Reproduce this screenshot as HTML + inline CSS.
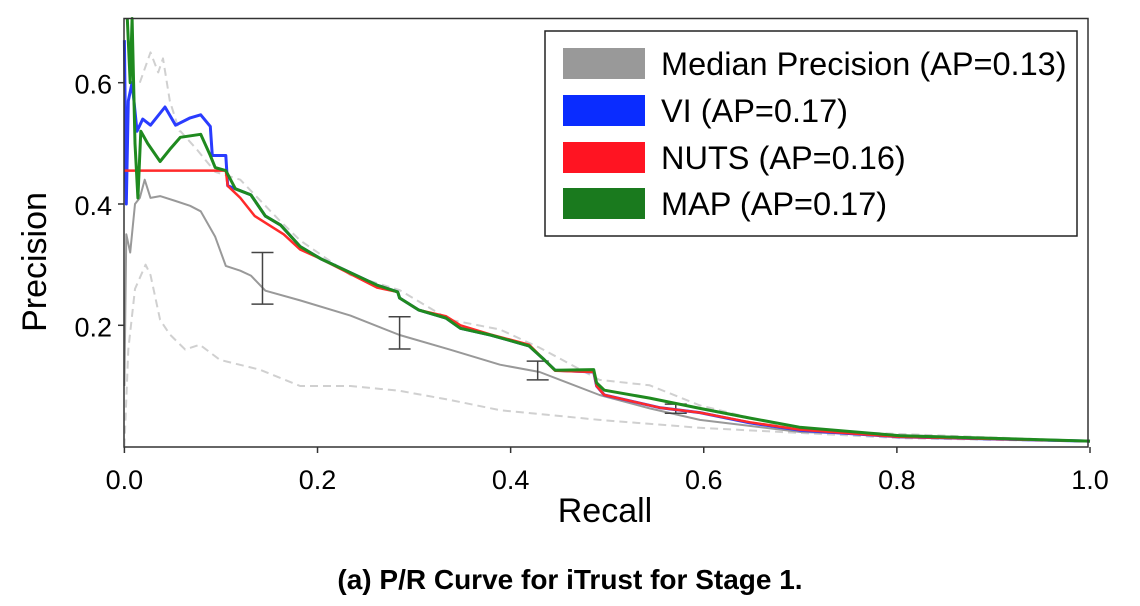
<!DOCTYPE html>
<html><head><meta charset="utf-8"><style>
html,body{margin:0;padding:0;background:#fff;}
svg text{font-family:"Liberation Sans",sans-serif;fill:#000;}
</style></head><body>
<svg width="1140" height="601" viewBox="0 0 1140 601">
<g id="plot"></g>
<rect x="124" y="18.5" width="964" height="428.5" fill="none" stroke="#333" stroke-width="1.5"/>
<g id="ticks"></g>
<text x="605" y="522" font-size="34" text-anchor="middle">Recall</text>
<text transform="translate(46,262) rotate(-90)" font-size="34" text-anchor="middle">Precision</text>
<g>
<rect x="545" y="31" width="532" height="205" fill="#fff" stroke="#222" stroke-width="1.5"/>
<rect x="563" y="48" width="82" height="31" fill="#999"/>
<text x="661" y="75" font-size="32.5">Median Precision (AP=0.13)</text>
<rect x="563" y="95" width="82" height="31" fill="#0a2cff"/>
<text x="661" y="122" font-size="32.5">VI (AP=0.17)</text>
<rect x="563" y="142" width="82" height="31" fill="#ff1422"/>
<text x="661" y="169" font-size="32.5">NUTS (AP=0.16)</text>
<rect x="563" y="188" width="82" height="31" fill="#1a7a1e"/>
<text x="661" y="215" font-size="32.5">MAP (AP=0.17)</text>
</g>
<text x="570" y="589" font-size="28" font-weight="bold" text-anchor="middle">(a) P/R Curve for iTrust for Stage 1.</text>
</svg>
<script>
const xTicks=[0,0.2,0.4,0.6,0.8,1.0];
const xTickLabels=["0.0","0.2","0.4","0.6","0.8","1.0"];
const yTicks=[0.2,0.4,0.6];
const yTickLabels=["0.2","0.4","0.6"];
const upperR=[0.016,0.027,0.035,0.04,0.047,0.057,0.058,0.075,0.094,0.12,0.14,0.16,0.182,0.234,0.285,0.337,0.389,0.43,0.492,0.544,0.596,0.7,1.0];
const upperP=[0.6,0.65,0.617,0.64,0.57,0.52,0.52,0.49,0.453,0.44,0.407,0.374,0.34,0.283,0.258,0.209,0.193,0.163,0.11,0.101,0.068,0.027,0.009];
const lowerR=[0,0.004,0.011,0.022,0.027,0.037,0.047,0.063,0.078,0.099,0.14,0.182,0.234,0.285,0.337,0.389,0.492,0.596,0.803,1.0];
const lowerP=[0,0.16,0.26,0.3,0.283,0.209,0.185,0.16,0.168,0.143,0.127,0.1,0.1,0.092,0.077,0.06,0.044,0.031,0.014,0.008];
const medR=[0,0.002,0.006,0.011,0.016,0.021,0.027,0.037,0.053,0.068,0.079,0.094,0.105,0.12,0.131,0.146,0.182,0.234,0.285,0.337,0.389,0.43,0.492,0.544,0.596,0.7,1.0];
const medP=[0.1,0.35,0.32,0.4,0.41,0.44,0.41,0.413,0.405,0.397,0.388,0.346,0.298,0.29,0.282,0.257,0.241,0.216,0.184,0.16,0.135,0.123,0.085,0.063,0.044,0.024,0.009];
const errR=[0.143,0.285,0.428,0.571];
const errLo=[0.235,0.161,0.11,0.055];
const errHi=[0.32,0.214,0.141,0.07];
const viR=[0,0.002,0.004,0.008,0.013,0.019,0.027,0.042,0.053,0.068,0.079,0.089,0.091,0.105,0.107,0.115,0.131,0.146,0.162,0.182,0.203,0.262,0.283,0.285,0.305,0.333,0.348,0.379,0.419,0.435,0.446,0.486,0.489,0.497,0.555,0.596,0.648,0.699,0.803,1.0];
const viP=[0.67,0.4,0.57,0.6,0.52,0.54,0.53,0.56,0.53,0.542,0.547,0.528,0.48,0.48,0.43,0.425,0.415,0.38,0.365,0.33,0.31,0.266,0.255,0.245,0.225,0.212,0.195,0.184,0.166,0.143,0.126,0.123,0.1,0.085,0.064,0.056,0.039,0.027,0.016,0.009];
const nutsR=[0,0.105,0.107,0.12,0.135,0.15,0.165,0.182,0.203,0.262,0.283,0.285,0.305,0.333,0.348,0.379,0.419,0.435,0.446,0.486,0.489,0.497,0.555,0.596,0.648,0.699,0.803,1.0];
const nutsP=[0.455,0.455,0.43,0.41,0.38,0.365,0.35,0.325,0.31,0.262,0.255,0.245,0.225,0.215,0.2,0.185,0.168,0.143,0.125,0.123,0.1,0.085,0.064,0.056,0.04,0.028,0.016,0.009];
const mapR=[0.003,0.006,0.008,0.011,0.014,0.017,0.024,0.037,0.047,0.058,0.079,0.089,0.094,0.105,0.115,0.131,0.146,0.162,0.182,0.203,0.262,0.283,0.285,0.305,0.333,0.348,0.379,0.419,0.435,0.446,0.486,0.489,0.497,0.544,0.596,0.648,0.699,0.803,1.0];
const mapP=[0.72,0.6,0.72,0.5,0.41,0.52,0.5,0.47,0.49,0.51,0.515,0.48,0.46,0.455,0.425,0.415,0.38,0.365,0.33,0.31,0.266,0.255,0.245,0.225,0.212,0.195,0.184,0.166,0.143,0.126,0.127,0.105,0.093,0.08,0.063,0.047,0.032,0.018,0.009];
const X0=124.4,XS=965.6,Y0=446.6,YS=606.5,YMIN=18.5;
const sx=r=>X0+r*XS, sy=p=>Math.max(YMIN,Y0-p*YS);
const NS="http://www.w3.org/2000/svg";
const plot=document.getElementById('plot'), tk=document.getElementById('ticks');
function mk(tag,attrs,parent){const e=document.createElementNS(NS,tag);for(const k in attrs)e.setAttribute(k,attrs[k]);parent.appendChild(e);return e;}
function line(R,P,stroke,w,dash,name){
  const pts=R.map((r,i)=>sx(r).toFixed(1)+","+sy(P[i]).toFixed(1)).join(" ");
  const el=mk('polyline',{points:pts,fill:'none',stroke:stroke,'stroke-width':w,'stroke-dasharray':dash||'none','stroke-linejoin':'round'},plot);
  
  
}
line(upperR,upperP,'#d0d0d0',2,'8,5','upper-quantile-line');
line(lowerR,lowerP,'#d0d0d0',2,'8,5','lower-quantile-line');
line(medR,medP,'#999',2,null,'median-precision-line');
errR.forEach((r,i)=>{
  const g=mk('g',{stroke:'#444','stroke-width':1.5},plot);
  
  
  mk('line',{x1:sx(r),x2:sx(r),y1:sy(errLo[i]),y2:sy(errHi[i])},g);
  mk('line',{x1:sx(r)-11,x2:sx(r)+11,y1:sy(errLo[i]),y2:sy(errLo[i])},g);
  mk('line',{x1:sx(r)-11,x2:sx(r)+11,y1:sy(errHi[i]),y2:sy(errHi[i])},g);
});
line(viR,viP,'#2a3cff',3,null,'vi-line');
line(nutsR,nutsP,'#ff2a2a',2.5,null,'nuts-line');
line(mapR,mapP,'#1f8a1f',3,null,'map-line');
xTicks.forEach((v,i)=>{
  const l=mk('line',{x1:sx(v),x2:sx(v),y1:447,y2:453,stroke:'#333','stroke-width':1.5},tk);
  
  
  const t=mk('text',{x:sx(v),y:489,'font-size':27,'text-anchor':'middle'},tk);
  t.textContent=xTickLabels[i];
  
  
});
yTicks.forEach((v,i)=>{
  const l=mk('line',{x1:118,x2:124,y1:sy(v),y2:sy(v),stroke:'#333','stroke-width':1.5},tk);
  
  
  const t=mk('text',{x:112,y:sy(v)+11,'font-size':27,'text-anchor':'end'},tk);
  t.textContent=yTickLabels[i];
  
  
});
</script>
</body></html>
